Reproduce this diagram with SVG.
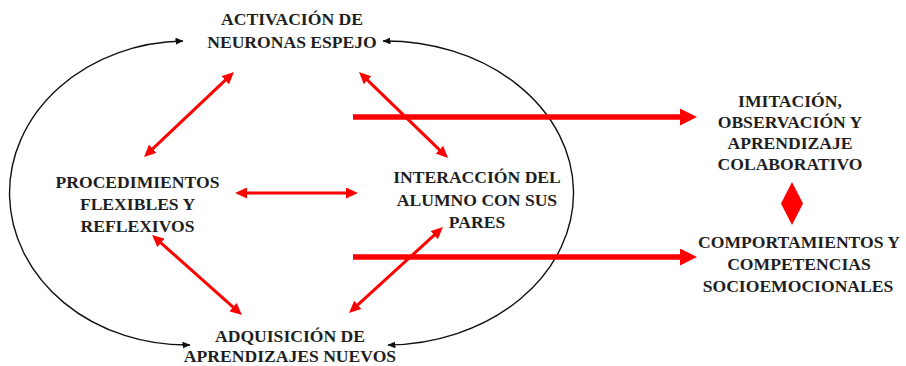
<svg xmlns="http://www.w3.org/2000/svg" width="906" height="366" viewBox="0 0 906 366">
<defs>
<style>
.t{font-family:"Liberation Serif","Times New Roman",serif;font-weight:bold;font-size:17.6px;fill:#1e1e1e;text-anchor:middle}
.arc{fill:none;stroke:#111;stroke-width:1.4}
.thin{fill:none;stroke:#ff0000;stroke-width:3}
.thick{fill:none;stroke:#ff0000;stroke-width:5.5}
</style>
<marker id="mk" viewBox="0 0 8 7" markerWidth="8" markerHeight="7" refX="7.5" refY="3.5" orient="auto-start-reverse" markerUnits="userSpaceOnUse">
<path d="M0,0 L8,3.5 L0,7 z" fill="#111"/>
</marker>
<marker id="mr" viewBox="0 0 12 11" markerWidth="12" markerHeight="11" refX="2" refY="5.5" orient="auto-start-reverse" markerUnits="userSpaceOnUse">
<path d="M0,0 L12,5.5 L0,11 z" fill="#ff0000"/>
</marker>
<marker id="mR" viewBox="0 0 17 17" markerWidth="17" markerHeight="17" refX="2" refY="8.5" orient="auto" markerUnits="userSpaceOnUse">
<path d="M0,0 L17,8.5 L0,17 z" fill="#ff0000"/>
</marker>
</defs>
<rect width="906" height="366" fill="#fff"/>
<g id="connectors">
<path class="arc" d="M183,41 A177,152 0 0 0 190,345" marker-start="url(#mk)" marker-end="url(#mk)"/>
<path class="arc" d="M383,41 A188,152 0 0 1 388,345" marker-start="url(#mk)" marker-end="url(#mk)"/>
<line class="thin" x1="151.3" y1="150.1" x2="226.7" y2="78.9" marker-start="url(#mr)" marker-end="url(#mr)"/>
<line class="thin" x1="366.2" y1="78.9" x2="440.8" y2="151.1" marker-start="url(#mr)" marker-end="url(#mr)"/>
<line class="thin" x1="245" y1="193" x2="348" y2="193" marker-start="url(#mr)" marker-end="url(#mr)"/>
<line class="thin" x1="159.5" y1="241.6" x2="234.5" y2="308.4" marker-start="url(#mr)" marker-end="url(#mr)"/>
<line class="thin" x1="356.4" y1="306.2" x2="435.6" y2="233.8" marker-start="url(#mr)" marker-end="url(#mr)"/>
<line class="thick" x1="353" y1="117" x2="682" y2="117" marker-end="url(#mR)"/>
<line class="thick" x1="353" y1="257" x2="682" y2="257" marker-end="url(#mR)"/>
<polygon id="diamond" points="792,182 803,203.5 792,225 781,203.5" fill="#ff0000"/>
</g>
<g id="n-activacion">
<text class="t" x="292" y="25">ACTIVACIÓN DE</text>
<text class="t" x="292" y="48">NEURONAS ESPEJO</text>
</g>
<g id="n-procedimientos">
<text class="t" x="137.5" y="188">PROCEDIMIENTOS</text>
<text class="t" x="137.5" y="210">FLEXIBLES Y</text>
<text class="t" x="137.5" y="232">REFLEXIVOS</text>
</g>
<g id="n-interaccion">
<text class="t" x="477" y="183">INTERACCIÓN DEL</text>
<text class="t" x="477" y="206">ALUMNO CON SUS</text>
<text class="t" x="477" y="228">PARES</text>
</g>
<g id="n-adquisicion">
<text class="t" x="290" y="342">ADQUISICIÓN DE</text>
<text class="t" x="290" y="362">APRENDIZAJES NUEVOS</text>
</g>
<g id="n-imitacion">
<text class="t" x="790" y="107">IMITACIÓN,</text>
<text class="t" x="790" y="128">OBSERVACIÓN Y</text>
<text class="t" x="790" y="149">APRENDIZAJE</text>
<text class="t" x="790" y="170">COLABORATIVO</text>
</g>
<g id="n-comportamientos">
<text class="t" x="799" y="248">COMPORTAMIENTOS Y</text>
<text class="t" x="799" y="270">COMPETENCIAS</text>
<text class="t" x="798" y="292">SOCIOEMOCIONALES</text>
</g>
</svg>
